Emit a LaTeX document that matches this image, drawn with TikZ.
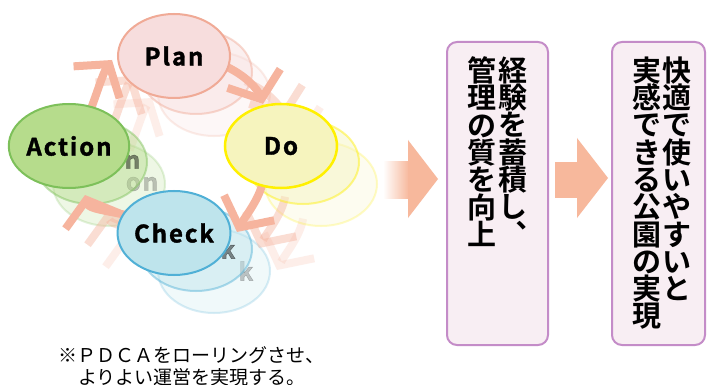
\documentclass[tikz,border=0pt]{standalone}
\usepackage{fontspec}
\usetikzlibrary{shapes.geometric,arrows.meta,calc}
\newfontfamily\jp{Noto Sans CJK JP}
\newfontfamily\jpb{Noto Sans CJK JP Bold}
\newfontfamily\lblfont[LetterSpace=8,FakeBold=1.5]{Noto Sans CJK JP Bold}
\definecolor{arrowc}{RGB}{246,180,158}
\definecolor{bigarrow}{RGB}{247,184,156}
\definecolor{planfill}{RGB}{247,221,221}
\definecolor{planline}{RGB}{240,170,150}
\definecolor{dofill}{RGB}{246,244,190}
\definecolor{doline}{RGB}{255,240,0}
\definecolor{actfill}{RGB}{182,220,140}
\definecolor{actline}{RGB}{125,192,90}
\definecolor{chkfill}{RGB}{190,228,236}
\definecolor{chkline}{RGB}{80,176,214}
\definecolor{boxfill}{RGB}{248,238,243}
\definecolor{boxline}{RGB}{196,140,200}
\pgfdeclarelayer{bgw}
\pgfdeclarelayer{ga}
\pgfdeclarelayer{gb}
\pgfdeclarelayer{ha}
\pgfdeclarelayer{hb}
\pgfdeclarelayer{ma}
\pgfdeclarelayer{top}
\pgfsetlayers{bgw,ga,gb,ha,hb,ma,main,top}
\tikzset{
  oval/.style={ellipse, minimum width=112pt, minimum height=84pt, inner sep=0pt, line width=2pt,
    font=\lblfont\fontsize{24}{24}\selectfont},
  ghosttext/.style={font=\lblfont\fontsize{24}{24}\selectfont, inner sep=0pt},
  cyc/.style={line width=8pt, draw=arrowc, line cap=butt,
    -{Straight Barb[length=22pt,width=56pt]}, shorten <=-6pt},
  vtext/.style={font=\jpb\fontsize{29}{27.3}\selectfont,
    align=center, inner sep=0pt, anchor=north},
  infobox/.style={draw=boxline, fill=boxfill, line width=2pt, rounded corners=10pt,
    minimum height=303pt},
  note/.style={font=\jp\fontsize{19}{19}\selectfont, anchor=west, inner sep=0pt}
}
% #1 shift, #2 opacity, #3 prefix, #4 arrow layer, #5 node layer, #6 label opacity
\newcommand\pdcalayer[6]{%
\begin{scope}[shift={#1}]
 \begin{pgfonlayer}{#5}
 \node[oval, fill=planfill, draw=planline, fill opacity=#2, draw opacity=#2, text opacity=#6] (#3plan) at (174,56) {};
 \node[oval, fill=dofill, draw=doline, fill opacity=#2, draw opacity=#2, text opacity=#6] (#3do) at (281,146) {};
 \node[oval, fill=chkfill, draw=chkline, fill opacity=#2, draw opacity=#2, text opacity=#6] (#3check) at (174,233) {};
 \node[oval, fill=actfill, draw=actline, fill opacity=#2, draw opacity=#2, text opacity=#6] (#3act) at (69,146) {};
 \node[ghosttext, text opacity=#6] (#3on) at (102,146) {on};
 \node[ghosttext, text opacity=#6] (#3k) at (206,233) {k};
 \end{pgfonlayer}
 \coordinate (#3tPD) at (263,104);
 \coordinate (#3tDC) at (237,232);
 \coordinate (#3tCA) at (85,195);
 \coordinate (#3tAP) at (112,60);
 \begin{pgfonlayer}{#4}
 \draw[cyc, draw opacity=#2] (#3plan.-12) .. controls +(18,8) and +(-5,-14) .. (#3tPD);
 \draw[cyc, draw opacity=#2] (#3do.-115) .. controls +(-2,12) and +(7,-14) .. (#3tDC);
 \draw[cyc, draw opacity=#2] (#3check.160) .. controls +(-18,-4) and +(4,14) .. (#3tCA);
 \draw[cyc, draw opacity=#2] (#3act.60) .. controls +(6,-16) and +(-9,13) .. (#3tAP);
 \end{pgfonlayer}
\end{scope}}

\begin{document}
\lineskiplimit=-1000pt
\begin{tikzpicture}[x=1pt,y=-1pt]
\begin{pgfonlayer}{bgw}
\fill[white] (0,0) rectangle (707,385);
\end{pgfonlayer}
\useasboundingbox (0,0) rectangle (707,385);

\pdcalayer{(40,38)}{0.22}{gg}{ga}{gb}{0.22}
\pdcalayer{(22,16)}{0.45}{g}{ha}{hb}{0.45}

% main cycle
\begin{pgfonlayer}{top}
\node[oval, fill=planfill, draw=planline] (plan) at (174,56) {Plan};
\node[oval, fill=dofill, draw=doline, line width=2.5pt] (do) at (281,146) {Do};
\node[oval, fill=chkfill, draw=chkline] (check) at (174,233) {Check};
\node[oval, fill=actfill, draw=actline] (act) at (69,146) {Action};
\end{pgfonlayer}
\coordinate (tPD) at (263,104);
\coordinate (tDC) at (237,232);
\coordinate (tCA) at (85,195);
\coordinate (tAP) at (112,60);
\begin{pgfonlayer}{ma}
\draw[cyc] (plan.-12) .. controls +(18,8) and +(-5,-14) .. (tPD);
\draw[cyc] (do.-115) .. controls +(-2,12) and +(7,-14) .. (tDC);
\draw[cyc] (check.160) .. controls +(-18,-4) and +(4,14) .. (tCA);
\draw[cyc] (act.60) .. controls +(6,-16) and +(-9,13) .. (tAP);
\end{pgfonlayer}

% big arrows
\shade[left color=white, right color=bigarrow] (383,162) rectangle (409,198);
\fill[bigarrow] (408,140) -- (438,179) -- (408,218) -- cycle;
\fill[bigarrow] (555,162) rectangle (578,198);
\fill[bigarrow] (577,138) -- (608,178) -- (577,218) -- cycle;

% boxes
\node[infobox, minimum width=101pt] (box1) at (497.5,193.5) {};
\node[infobox, minimum width=93pt] (box2) at (658.5,193.5) {};

\node[vtext] (b1r) at (513,56.5) {経\\験\\を\\蓄\\積\\し\\︑};
\node[vtext] (b1l) at (482,56.5) {管\\理\\の\\質\\を\\向\\上};
\node[vtext] (b2r) at (677,56.5) {快\\適\\で\\使\\い\\や\\す\\い\\と};
\node[vtext] (b2l) at (647,56.5) {実\\感\\で\\き\\る\\公\\園\\の\\実\\現};

\node[note] (n1) at (58,355) {※ＰＤＣＡをローリングさせ、};
\node[note] (n2) at (78,377) {よりよい運営を実現する。};
\end{tikzpicture}
\end{document}
